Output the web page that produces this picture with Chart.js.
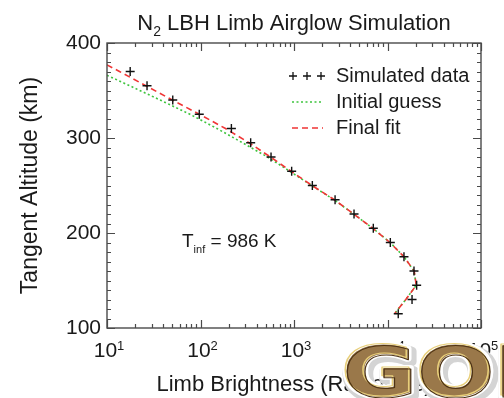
<!DOCTYPE html>
<html>
<head>
<meta charset="utf-8">
<script src="https://cdn.jsdelivr.net/npm/chart.js@4"></script>
<style>
  html, body { margin: 0; padding: 0; background: #fff; }
  #chart { display: block; }
</style>
</head>
<body>
<canvas id="chart" width="504" height="398"></canvas>
<script>
// simulated limb scan, one point every 15 km
var simAltitude = [370, 355, 340, 325, 310, 295, 280, 265, 250, 235, 220, 205, 190, 175, 160, 145, 130, 115];
var simBrightness = [17.7, 26.8, 50.5, 97, 214, 344, 568, 944, 1571, 2750, 4385, 7050, 10720, 15000, 19200, 20500, 18300, 13030];

var guessAltitude = [366, 355, 340, 325, 310, 295, 280, 265, 250, 235, 220, 205, 190, 175, 160, 145, 130, 115];
var guessBrightness = [10, 17.5, 37, 77, 150, 281, 521, 900, 1540, 2680, 4330, 6950, 10700, 15000, 19200, 20300, 15700, 11900];

var fitAltitude = [377, 370, 355, 340, 325, 310, 295, 280, 265, 250, 235, 220, 205, 190, 175, 160, 145, 130, 115];
var fitBrightness = [10, 13.6, 26, 50, 97, 185, 330, 560, 930, 1560, 2700, 4350, 6950, 10600, 15000, 19300, 20300, 15700, 11900];

var xDecades = [1, 2, 3, 4, 5];          // 10^1 .. 10^5
var yTicks = [100, 200, 300, 400];
var legendLabels = ["Simulated data", "Initial guess", "Final fit"];
var tInf = "986 K";

var FONT = "'Liberation Sans', Arial, Helvetica, sans-serif";

function pts(xs, ys) {
  return xs.map(function (x, i) { return { x: x, y: ys[i] }; });
}

// draws the IDL-style box, inward ticks, labels, legend and annotation
var idlAxes = {
  id: "idlAxes",
  afterDraw: function (chart) {
    var ctx = chart.ctx;
    var a = chart.chartArea;
    var xs = chart.scales.x, ys = chart.scales.y;
    ctx.save();

    // frame
    ctx.strokeStyle = "#4a4a4a";
    ctx.lineWidth = 1.4;
    ctx.strokeRect(a.left, a.top, a.right - a.left, a.bottom - a.top);

    // y ticks every 10 km, both sides
    ctx.lineWidth = 1.2;
    ctx.beginPath();
    for (var v = 100; v <= 400; v += 10) {
      var py = Math.round(ys.getPixelForValue(v)) + 0.5;
      var len = v % 100 === 0 ? 8 : 4;
      ctx.moveTo(a.left, py); ctx.lineTo(a.left + len, py);
      ctx.moveTo(a.right, py); ctx.lineTo(a.right - len, py);
    }
    // x ticks per decade, top and bottom
    for (var d = 1; d <= 5; d++) {
      for (var m = 1; m <= 9; m++) {
        if (d === 5 && m > 1) break;
        var px = Math.round(xs.getPixelForValue(m * Math.pow(10, d))) + 0.5;
        var l = m === 1 ? 8 : 4;
        ctx.moveTo(px, a.bottom); ctx.lineTo(px, a.bottom - l);
        ctx.moveTo(px, a.top); ctx.lineTo(px, a.top + l);
      }
    }
    ctx.stroke();

    ctx.fillStyle = "#1a1a1a";
    // y tick labels
    ctx.font = "21px " + FONT;
    ctx.textAlign = "right";
    ctx.textBaseline = "middle";
    yTicks.forEach(function (t) {
      ctx.fillText(String(t), a.left - 6, ys.getPixelForValue(t));
    });

    // x tick labels 10^n
    ctx.textBaseline = "alphabetic";
    ctx.textAlign = "left";
    xDecades.forEach(function (n) {
      var px = xs.getPixelForValue(Math.pow(10, n));
      ctx.font = "21px " + FONT;
      var w1 = ctx.measureText("10").width;
      ctx.font = "13px " + FONT;
      var w2 = ctx.measureText(String(n)).width;
      var x0 = px - (w1 + w2) / 2 + 2;
      ctx.font = "21px " + FONT;
      ctx.fillText("10", x0, a.bottom + 29);
      ctx.font = "13px " + FONT;
      ctx.fillText(String(n), x0 + w1, a.bottom + 22);
    });

    // title with subscript
    ctx.font = "22px " + FONT;
    var tRest = " LBH Limb Airglow Simulation";
    var wN = ctx.measureText("N").width;
    var wR = ctx.measureText(tRest).width;
    ctx.font = "14px " + FONT;
    var w2s = ctx.measureText("2").width;
    var tx = (a.left + a.right) / 2 - (wN + w2s + wR) / 2;
    ctx.font = "22px " + FONT;
    ctx.fillText("N", tx, 30);
    ctx.font = "14px " + FONT;
    ctx.fillText("2", tx + wN, 36);
    ctx.font = "22px " + FONT;
    ctx.fillText(tRest, tx + wN + w2s, 30);

    // axis titles
    ctx.textAlign = "center";
    ctx.fillText("Limb Brightness (Rayleighs)", (a.left + a.right) / 2, 391);
    ctx.save();
    ctx.translate(31, (a.top + a.bottom) / 2);
    ctx.rotate(-Math.PI / 2);
    ctx.font = "23px " + FONT;
    ctx.textBaseline = "middle";
    ctx.fillText("Tangent Altitude (km)", 0, 0);
    ctx.restore();

    // legend
    ctx.font = "20px " + FONT;
    ctx.textAlign = "left";
    ctx.textBaseline = "middle";
    var lx = 336, rows = [76, 102, 128];
    legendLabels.forEach(function (s, i) { ctx.fillText(s, lx, rows[i]); });
    ctx.strokeStyle = "#111";
    ctx.lineWidth = 1.3;
    ctx.beginPath();
    [293, 307, 321].forEach(function (cx) {
      ctx.moveTo(cx - 4, rows[0]); ctx.lineTo(cx + 4, rows[0]);
      ctx.moveTo(cx, rows[0] - 4); ctx.lineTo(cx, rows[0] + 4);
    });
    ctx.stroke();
    ctx.lineWidth = 1.6;
    ctx.strokeStyle = "#3ec43e";
    ctx.setLineDash([2, 2.5]);
    ctx.beginPath(); ctx.moveTo(292, rows[1]); ctx.lineTo(323, rows[1]); ctx.stroke();
    ctx.strokeStyle = "#f03535";
    ctx.setLineDash([6, 4]);
    ctx.beginPath(); ctx.moveTo(292, rows[2]); ctx.lineTo(323, rows[2]); ctx.stroke();
    ctx.setLineDash([]);

    // T_inf annotation
    ctx.fillStyle = "#1a1a1a";
    ctx.textBaseline = "alphabetic";
    ctx.font = "19px " + FONT;
    ctx.fillText("T", 182, 247);
    var wT = ctx.measureText("T").width;
    ctx.font = "11px " + FONT;
    ctx.fillText("inf", 182 + wT, 253);
    var wi = ctx.measureText("inf").width;
    ctx.font = "19px " + FONT;
    ctx.fillText(" = " + tInf, 182 + wT + wi, 247);

    // GOLD watermark in the corner
    ctx.save();
    ctx.beginPath();
    ctx.rect(0, 0, 504, 398);
    ctx.clip();
    ctx.translate(342, 396);
    ctx.scale(1.3, 1);
    ctx.font = "bold 70px 'DejaVu Sans', sans-serif";
    ctx.lineJoin = "round";
    ctx.strokeStyle = "#d4d4d4";
    ctx.lineWidth = 10;
    ctx.strokeText("GOLD", 2, 3);
    ctx.strokeStyle = "#ffffff";
    ctx.lineWidth = 6;
    ctx.strokeText("GOLD", 0, 0);
    ctx.fillStyle = "#9a784a";
    ctx.fillText("GOLD", 0, 0);
    ctx.strokeStyle = "#e8cf7a";
    ctx.lineWidth = 1.2;
    ctx.strokeText("GOLD", -1, -1);
    ctx.strokeStyle = "#4e3314";
    ctx.lineWidth = 1;
    ctx.strokeText("GOLD", 0.5, 0.5);
    ctx.restore();

    ctx.restore();
  }
};

new Chart("chart", {
  type: "line",
  data: {
    datasets: [
      {
        label: legendLabels[0],
        data: pts(simBrightness, simAltitude),
        showLine: false,
        pointStyle: "cross",
        pointRadius: 4.5,
        pointBorderWidth: 1.4,
        borderColor: "#111",
        backgroundColor: "#111",
      },
      {
        label: legendLabels[2],
        data: pts(fitBrightness, fitAltitude),
        borderColor: "#f03535",
        borderWidth: 1.6,
        borderDash: [6, 4],
        pointRadius: 0,
        tension: 0,
        fill: false,
      },
      {
        label: legendLabels[1],
        data: pts(guessBrightness, guessAltitude),
        borderColor: "#3ec43e",
        borderWidth: 1.6,
        borderDash: [2, 2.5],
        pointRadius: 0,
        tension: 0,
        fill: false,
      },
    ],
  },
  options: {
    responsive: false,
    animation: false,
    parsing: true,
    layout: { padding: { left: 107, right: 23, top: 43, bottom: 70 } },
    plugins: { legend: { display: false }, tooltip: { enabled: false }, title: { display: false } },
    scales: {
      x: { type: "logarithmic", min: 10, max: 100000, display: false },
      y: { type: "linear", min: 100, max: 400, display: false },
    },
  },
  plugins: [idlAxes],
});
</script>
</body>
</html>
